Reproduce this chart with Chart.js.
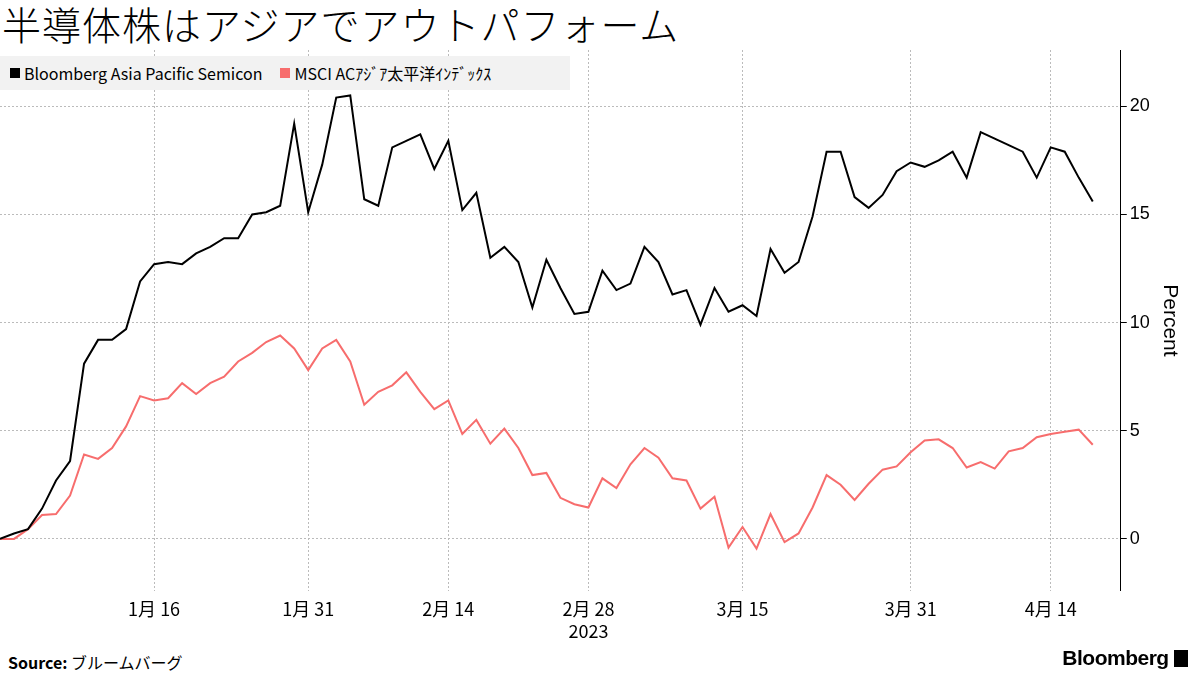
<!DOCTYPE html>
<html><head><meta charset="utf-8">
<script src="https://cdn.jsdelivr.net/npm/chart.js@4"></script>
<style>
body{margin:0;width:1200px;height:675px;background:#fff;font-family:"Noto Sans CJK JP","Noto Sans",sans-serif;position:relative;overflow:hidden}
#title{position:absolute;left:2px;top:-5px;font-size:39px;color:#000;font-weight:300;letter-spacing:1px}
#wrap{position:absolute;left:0;top:0;width:1200px;height:650px}
#legend{position:absolute;left:0;top:56px;height:34px;width:570px;background:#f2f2f2;font-size:16px;display:flex;align-items:center}
#legend span.k{display:inline-block;width:10px;height:10px;margin:0 4px 0 10px}
#src{position:absolute;left:8px;top:650px;font-size:16px}
#logo{position:absolute;right:12px;top:646px;font-size:21px;font-weight:bold;font-family:"Liberation Sans",sans-serif;letter-spacing:-0.5px}
</style></head><body>
<div id="title">半導体株はアジアでアウトパフォーム</div>
<div id="wrap"><canvas id="c" width="1200" height="650"></canvas></div>
<div id="legend"><span class="k" style="background:#000"></span>Bloomberg Asia Pacific Semicon<span class="k" style="background:#f76d6d;margin-left:18px"></span>MSCI ACｱｼﾞｱ太平洋ｲﾝﾃﾞｯｸｽ</div>
<div id="src"><b>Source:</b> ブルームバーグ</div>
<div id="logo">Bloomberg <span style="display:inline-block;width:14px;height:17px;background:#000;vertical-align:-2px"></span></div>
<script>
// trading days from Dec 30 2022, index -> tick label
const tickLabels = {11:'1月 16', 22:'1月 31', 32:'2月 14', 42:['2月 28','2023'], 53:'3月 15', 65:'3月 31', 75:'4月 14'};
const yTicks = [0,5,10,15,20];
const semicon = [0,0.25,0.45,1.4,2.7,3.6,8.1,9.2,9.2,9.7,11.9,12.7,12.8,12.7,13.2,13.5,13.9,13.9,15.0,15.1,15.4,19.2,15.1,17.3,20.4,20.5,15.7,15.4,18.1,18.4,18.7,17.1,18.4,15.2,16.0,13.0,13.5,12.8,10.7,12.9,11.6,10.4,10.5,12.4,11.5,11.8,13.5,12.8,11.3,11.5,9.9,11.6,10.5,10.8,10.3,13.4,12.3,12.8,14.9,17.9,17.9,15.8,15.3,15.9,17.0,17.4,17.2,17.5,17.9,16.7,18.8,18.5,18.2,17.9,16.7,18.1,17.9,16.7,15.6];
const msci = [0,0,0.45,1.1,1.15,2.0,3.9,3.7,4.2,5.2,6.6,6.4,6.5,7.2,6.7,7.2,7.5,8.2,8.6,9.1,9.4,8.8,7.8,8.8,9.2,8.2,6.2,6.8,7.1,7.7,6.8,6.0,6.4,4.85,5.5,4.4,5.1,4.2,2.95,3.05,1.9,1.6,1.45,2.8,2.35,3.45,4.2,3.75,2.8,2.7,1.4,1.95,-0.4,0.55,-0.45,1.15,-0.15,0.25,1.45,2.95,2.5,1.8,2.55,3.2,3.35,4.0,4.55,4.6,4.2,3.3,3.55,3.25,4.05,4.2,4.7,4.85,4.95,5.05,4.35];
const labels = [];
for (let i = 0; i <= 80; i++) labels.push(i); // two empty slots after the last trading day
new Chart(document.getElementById('c'),{
  type:'line',
  data:{labels:labels,datasets:[
    {data:semicon,borderColor:'#000',borderWidth:2,pointRadius:0,tension:0},
    {data:msci,borderColor:'#f76d6d',borderWidth:2,pointRadius:0,tension:0}
  ]},
  options:{responsive:false,animation:false,
    layout:{padding:{top:50,left:0,right:2}},
    plugins:{legend:{display:false},tooltip:{enabled:false}},
    scales:{
      x:{offset:false,
        grid:{color:ctx=>tickLabels[ctx.tick&&ctx.tick.value]!==undefined?'#bbb':'rgba(0,0,0,0)',drawTicks:false},
        border:{display:false,dash:[2,2]},
        ticks:{autoSkip:false,maxRotation:0,padding:8,color:'#000',font:{size:18,family:'"Noto Sans CJK JP"'},
          callback:(v)=>tickLabels[v]!==undefined?tickLabels[v]:null}},
      y:{position:'right',min:-2.4,max:22.6,
        afterBuildTicks:ax=>{ax.ticks=yTicks.map(v=>({value:v}));},
        grid:{color:'#bbb',tickLength:6,tickColor:'#000'},
        border:{display:true,color:'#000',dash:[2,2]},
        ticks:{color:'#000',font:{size:18}},
        title:{display:true,text:'Percent',color:'#000',font:{size:21},padding:{top:16}}}
    }
  }
});
</script>
</body></html>
